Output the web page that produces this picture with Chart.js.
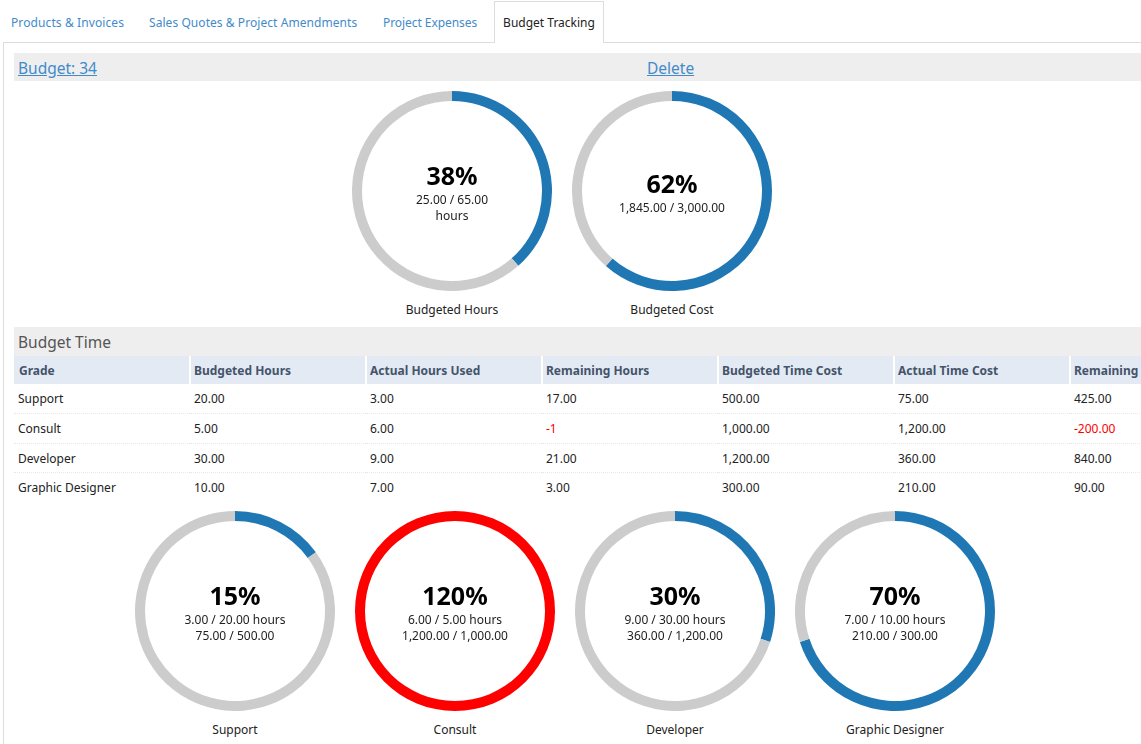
<!DOCTYPE html>
<html>
<head>
<meta charset="utf-8">
<script src="https://cdn.jsdelivr.net/npm/chart.js@4/dist/chart.umd.min.js"></script>
<style>
    html, body { margin: 0; padding: 0; background: #fff; overflow: hidden; }
    body { width: 1141px; height: 744px; position: relative; font-family: "Noto Sans", "Open Sans", sans-serif; font-size: 12px; color: #222; }
    .tab { position: absolute; top: 15px; color: #428bca; line-height: 16px; white-space: nowrap; }
    #frame { position: absolute; left: 3px; top: 42px; width: 1140px; height: 704px; border: 1px solid #ddd; border-width: 1px 0 0 1px; box-sizing: border-box; }
    #activeTab { position: absolute; left: 494px; top: 1px; width: 110px; height: 42px; box-sizing: border-box; border: 1px solid #ddd; border-bottom: 0; background: #fff; color: #222; text-align: center; line-height: 42px; }
    .bar { position: absolute; left: 14px; width: 1127px; background: #eee; }
    .link { color: #428bca; text-decoration: underline; font-size: 15.5px; line-height: 30px; position: absolute; top: 0; }
    table { position: absolute; left: 14px; top: 356px; width: 1232px; border-collapse: separate; border-spacing: 0; table-layout: fixed; }
    th { background: #e3eaf4; color: #44546a; text-align: left; font-weight: 700; height: 28px; padding: 0 0 0 3px; border-right: 1px solid #fff; border-left: 1px solid #fff; box-sizing: border-box; }
    th:first-child { border-left: 0; padding-left: 5px; }
    td { height: 30px; padding: 0 0 0 4px; border-bottom: 1px dotted #e8e8e8; box-sizing: border-box; }
    tr:nth-child(4) td { height: 29px; }
    tr:last-child td { border-bottom: 0; height: 28px; }
    .neg { color: #f00; }
    .gauge { position: absolute; width: 200px; height: 200px; }
    .gauge canvas { display: block; }
    .center { position: absolute; left: 0; width: 200px; text-align: center; line-height: 16px; color: #222; }
    .pct { display: block; font-size: 25px; font-weight: 700; color: #000; line-height: 33px; }
    .cap { position: absolute; top: 211px; left: 0; width: 200px; text-align: center; line-height: 16px; }
</style>
</head>
<body>
<div id="frame"></div>
<div class="tab" style="left:11px;letter-spacing:0.1px">Products &amp; Invoices</div>
<div class="tab" style="left:149px;letter-spacing:0.06px">Sales Quotes &amp; Project Amendments</div>
<div class="tab" style="left:383px;letter-spacing:-0.06px">Project Expenses</div>
<div id="activeTab">Budget Tracking</div>

<div class="bar" style="top:53px;height:28px">
    <span class="link" style="left:4px">Budget: 34</span>
    <span class="link" style="left:633px">Delete</span>
</div>
<div class="bar" style="top:327px;height:29px;font-size:15.5px;line-height:30px;color:#555;padding-left:4px;box-sizing:border-box">Budget Time</div>
<table id="grid"></table>

<script>
// Top gauges
const summaryLabels = ['Budgeted Hours', 'Budgeted Cost'];
const summaryPercent = ['38%', '62%'];
const summaryUsed = [25, 1845];
const summaryRest = [40, 1155];
const summaryText = [['25.00 / 65.00', 'hours'], ['1,845.00 / 3,000.00']];

// Budget Time table
const tableHeaders = ['Grade', 'Budgeted Hours', 'Actual Hours Used', 'Remaining Hours', 'Budgeted Time Cost', 'Actual Time Cost', 'Remaining Time Cost'];
const grades = ['Support', 'Consult', 'Developer', 'Graphic Designer'];
const budgetedHours = ['20.00', '5.00', '30.00', '10.00'];
const actualHours = ['3.00', '6.00', '9.00', '7.00'];
const remainingHours = ['17.00', '-1', '21.00', '3.00'];
const budgetedCost = ['500.00', '1,000.00', '1,200.00', '300.00'];
const actualCost = ['75.00', '1,200.00', '360.00', '210.00'];
const remainingCost = ['425.00', '-200.00', '840.00', '90.00'];

// Grade gauges
const gradePercent = ['15%', '120%', '30%', '70%'];
const gradeUsed = [3, 6, 9, 7];
const gradeRest = [17, 0, 21, 3];
const gradeColors = ['#1f77b4', '#ff0000', '#1f77b4', '#1f77b4'];

const summaryLefts = [352, 572];
const gradeLefts = [135, 355, 575, 795];

function addGauge(left, top, used, rest, color, percent, lines, caption, textTop) {
    const box = document.createElement('div');
    box.className = 'gauge';
    box.style.left = left + 'px';
    box.style.top = top + 'px';
    const canvas = document.createElement('canvas');
    canvas.width = 200;
    canvas.height = 200;
    box.appendChild(canvas);

    const center = document.createElement('div');
    center.className = 'center';
    center.style.top = textTop + 'px';
    center.innerHTML = '<span class="pct">' + percent + '</span>' + lines.join('<br>');
    box.appendChild(center);

    const cap = document.createElement('div');
    cap.className = 'cap';
    cap.textContent = caption;
    box.appendChild(cap);
    document.body.appendChild(box);

    new Chart(canvas.getContext('2d'), {
        type: 'doughnut',
        data: {
            labels: ['Used', 'Remaining'],
            datasets: [{
                data: [used, rest],
                backgroundColor: [color, '#cccccc'],
                borderWidth: 0
            }]
        },
        options: {
            responsive: false,
            animation: false,
            cutout: 90,
            layout: { padding: 0 },
            plugins: { legend: { display: false }, tooltip: { enabled: false } }
        }
    });
}

// Table rows
const grid = document.getElementById('grid');
let html = '<colgroup>' + tableHeaders.map(() => '<col style="width:176px">').join('') + '</colgroup>';
html += '<tr>' + tableHeaders.map(h => '<th>' + h + '</th>').join('') + '</tr>';
grades.forEach((grade, i) => {
    const cells = [grade, budgetedHours[i], actualHours[i], remainingHours[i], budgetedCost[i], actualCost[i], remainingCost[i]];
    html += '<tr>' + cells.map(c => '<td' + (c.startsWith('-') ? ' class="neg"' : '') + '>' + c + '</td>').join('') + '</tr>';
});
grid.innerHTML = html;

document.addEventListener('DOMContentLoaded', () => {
    summaryLabels.forEach((label, i) => {
        const lines = summaryText[i];
        addGauge(summaryLefts[i], 91, summaryUsed[i], summaryRest[i], '#1f77b4', summaryPercent[i], lines, label, lines.length > 1 ? 68 : 76);
    });
    grades.forEach((grade, i) => {
        const lines = [actualHours[i] + ' / ' + budgetedHours[i] + ' hours', actualCost[i] + ' / ' + budgetedCost[i]];
        addGauge(gradeLefts[i], 511, gradeUsed[i], gradeRest[i], gradeColors[i], gradePercent[i], lines, grade, 68);
    });
});
</script>
</body>
</html>
